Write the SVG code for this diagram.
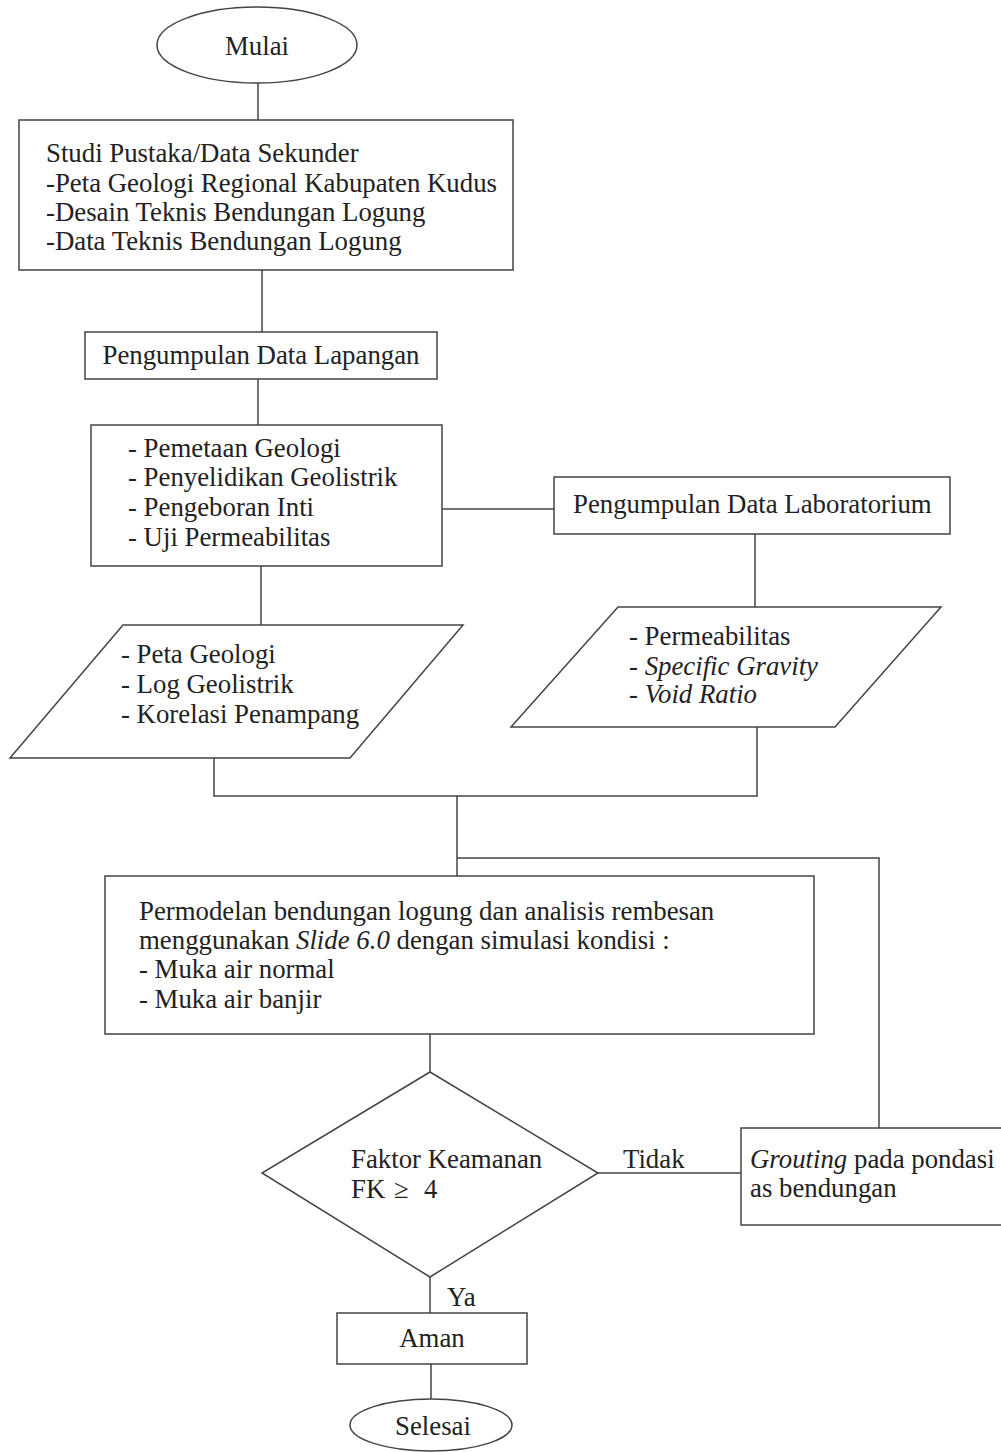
<svg xmlns="http://www.w3.org/2000/svg" width="1001" height="1452" viewBox="0 0 1001 1452">
<style>
.s{fill:#fff;stroke:#444;stroke-width:1.5}
.c{fill:none;stroke:#444;stroke-width:1.5}
text{font-family:"Liberation Serif","Times New Roman",serif;font-size:26.8px;fill:#222}
.m{text-anchor:middle}
.i{font-style:italic}
</style>
<rect width="1001" height="1452" fill="#fff"/>
<g id="connectors">
<path class="c" d="M258 82V120"/>
<path class="c" d="M262 270V332"/>
<path class="c" d="M258 379V425"/>
<path class="c" d="M442 509H554"/>
<path class="c" d="M261 566V625"/>
<path class="c" d="M755 534V607"/>
<path class="c" d="M214 758V796H757V727"/>
<path class="c" d="M457 796V876"/>
<path class="c" d="M457 858H879V1128"/>
<path class="c" d="M430 1034V1072"/>
<path class="c" d="M598 1173H741"/>
<path class="c" d="M430 1277V1313"/>
<path class="c" d="M431 1364V1399"/>
<text x="623" y="1168">Tidak</text>
<text x="447" y="1306">Ya</text>
</g>
<g id="mulai">
<ellipse class="s" cx="257" cy="45" rx="100" ry="38"/>
<text class="m" x="257" y="55">Mulai</text>
</g>
<g id="studi">
<rect class="s" x="19" y="120" width="494" height="150"/>
<text x="46" y="162">Studi Pustaka/Data Sekunder</text>
<text x="46" y="192">-Peta Geologi Regional Kabupaten Kudus</text>
<text x="46" y="221">-Desain Teknis Bendungan Logung</text>
<text x="46" y="250">-Data Teknis Bendungan Logung</text>
</g>
<g id="lapangan">
<rect class="s" x="85" y="332" width="352" height="47"/>
<text class="m" x="261" y="364">Pengumpulan Data Lapangan</text>
</g>
<g id="kegiatan">
<rect class="s" x="91" y="425" width="351" height="141"/>
<text x="128" y="457">- Pemetaan Geologi</text>
<text x="128" y="486">- Penyelidikan Geolistrik</text>
<text x="128" y="516">- Pengeboran Inti</text>
<text x="128" y="546">- Uji Permeabilitas</text>
</g>
<g id="laboratorium">
<rect class="s" x="554" y="477" width="396" height="57"/>
<text x="573" y="513">Pengumpulan Data Laboratorium</text>
</g>
<g id="hasil-lapangan">
<polygon class="s" points="123,625 463,625 350,758 10,758"/>
<text x="121" y="663">- Peta Geologi</text>
<text x="121" y="693">- Log Geolistrik</text>
<text x="121" y="723">- Korelasi Penampang</text>
</g>
<g id="hasil-lab">
<polygon class="s" points="618,607 941,607 835,727 511,727"/>
<text x="629" y="645">- Permeabilitas</text>
<text x="629" y="675">- <tspan class="i">Specific Gravity</tspan></text>
<text x="629" y="703">- <tspan class="i">Void Ratio</tspan></text>
</g>
<g id="permodelan">
<rect class="s" x="105" y="876" width="709" height="158"/>
<text x="139" y="920">Permodelan bendungan logung dan analisis rembesan</text>
<text x="139" y="949">menggunakan <tspan class="i">Slide 6.0</tspan> dengan simulasi kondisi :</text>
<text x="139" y="978">- Muka air normal</text>
<text x="139" y="1008">- Muka air banjir</text>
</g>
<g id="faktor-keamanan">
<polygon class="s" points="430,1072 598,1173 430,1277 262,1173"/>
<text x="351" y="1168">Faktor Keamanan</text>
<text y="1198"><tspan x="351">FK</tspan><tspan x="394">≥</tspan><tspan x="424">4</tspan></text>
</g>
<g id="grouting">
<rect class="s" x="741" y="1128" width="270" height="97"/>
<text x="750" y="1168"><tspan class="i">Grouting</tspan> pada pondasi</text>
<text x="750" y="1197">as bendungan</text>
</g>
<g id="aman">
<rect class="s" x="337" y="1313" width="190" height="51"/>
<text class="m" x="432" y="1347">Aman</text>
</g>
<g id="selesai">
<ellipse class="s" cx="431" cy="1425" rx="81" ry="26"/>
<text class="m" x="433" y="1435">Selesai</text>
</g>
</svg>
